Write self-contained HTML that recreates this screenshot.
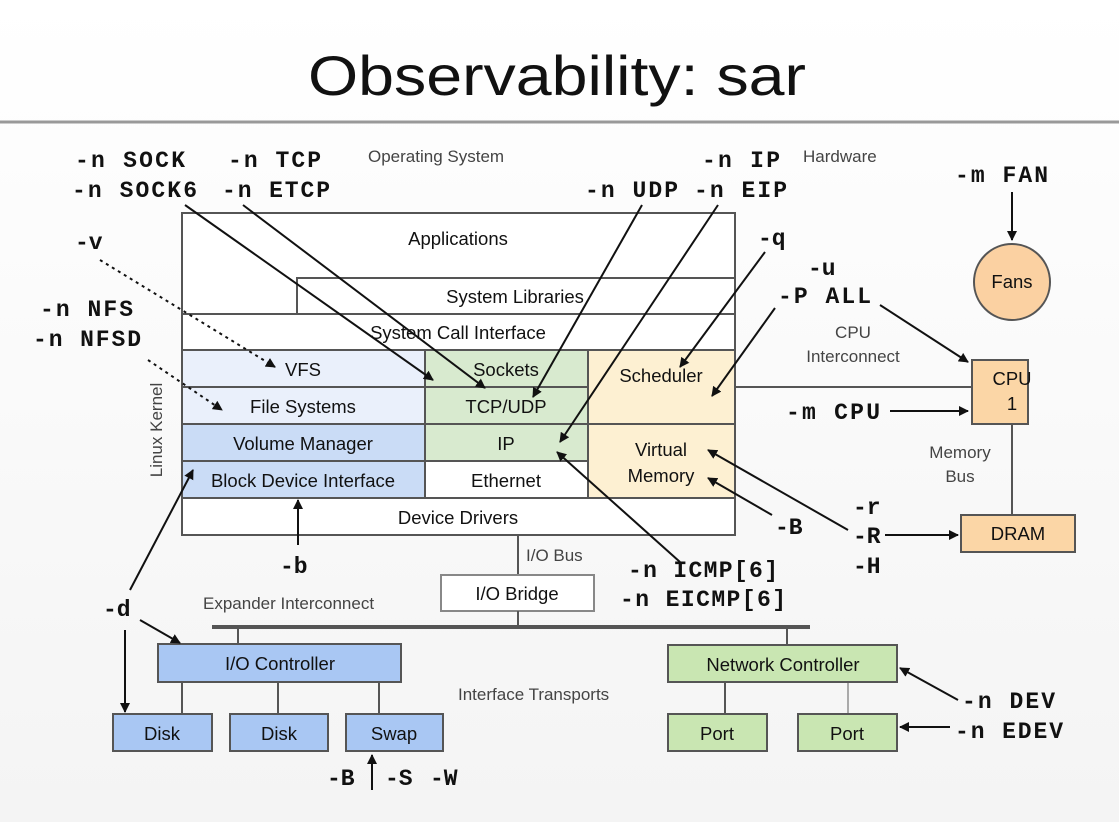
<!DOCTYPE html>
<html><head><meta charset="utf-8"><style>
html,body{margin:0;padding:0;background:#fff}
svg{display:block}
.m{font-family:"Liberation Mono",monospace;font-weight:bold;font-size:23px;fill:#111}
.s{font-family:"Liberation Sans",sans-serif;font-size:18.5px;fill:#111}
.g{font-family:"Liberation Sans",sans-serif;font-size:17px;fill:#444}
</style></head><body>
<svg width="1119" height="822" viewBox="0 0 1119 822" xmlns="http://www.w3.org/2000/svg">
<defs>
<marker id="a" markerWidth="10" markerHeight="10" refX="9" refY="5" orient="auto" markerUnits="userSpaceOnUse" viewBox="0 0 10 10"><path d="M0,0 L10,5 L0,10 z" fill="#111"/></marker>
<linearGradient id="bg" x1="0" y1="0" x2="0" y2="1"><stop offset="0" stop-color="#fff"/><stop offset="1" stop-color="#f4f4f4"/></linearGradient>
</defs>
<rect width="1119" height="822" fill="url(#bg)"/>
<text x="308" y="95" font-family="Liberation Sans,sans-serif" font-size="56" fill="#111" textLength="498" lengthAdjust="spacingAndGlyphs">Observability: sar</text>
<line x1="0" y1="122" x2="1119" y2="122" stroke="#999" stroke-width="3"/>

<g stroke="#555" stroke-width="2">
<rect x="182" y="213" width="553" height="322" fill="#fff"/>
<rect x="297" y="278" width="438" height="36" fill="#fff"/>
<line x1="182" y1="314" x2="735" y2="314"/>
<rect x="182" y="350" width="243" height="37" fill="#eaf0fb"/>
<rect x="182" y="387" width="243" height="37" fill="#eaf0fb"/>
<rect x="182" y="424" width="243" height="37" fill="#cadcf6"/>
<rect x="182" y="461" width="243" height="37" fill="#cadcf6"/>
<rect x="425" y="350" width="163" height="37" fill="#d8eacf"/>
<rect x="425" y="387" width="163" height="37" fill="#d8eacf"/>
<rect x="425" y="424" width="163" height="37" fill="#d8eacf"/>
<rect x="425" y="461" width="163" height="37" fill="#fff"/>
<rect x="588" y="350" width="147" height="74" fill="#fdf0d2"/>
<rect x="588" y="424" width="147" height="74" fill="#fdf0d2"/>
<line x1="735" y1="387" x2="972" y2="387"/>
<line x1="1012" y1="424" x2="1012" y2="515"/>
<line x1="518" y1="535" x2="518" y2="575"/>
<rect x="441" y="575" width="153" height="36" fill="#fff" stroke="#888"/>
<line x1="518" y1="611" x2="518" y2="627"/>
<line x1="238" y1="627" x2="238" y2="644"/>
<line x1="787" y1="627" x2="787" y2="645"/>
<line x1="182" y1="682" x2="182" y2="714"/>
<line x1="278" y1="682" x2="278" y2="714"/>
<line x1="379" y1="682" x2="379" y2="714"/>
<line x1="725" y1="682" x2="725" y2="714"/>
<line x1="848" y1="682" x2="848" y2="714" stroke="#aaa"/>
</g>
<line x1="212" y1="627" x2="810" y2="627" stroke="#555" stroke-width="4"/>
<g stroke="#555" stroke-width="2">
<rect x="972" y="360" width="56" height="64" fill="#fbd6a6"/>
<circle cx="1012" cy="282" r="38" fill="#fbd1a2"/>
<rect x="961" y="515" width="114" height="37" fill="#fbd6a6"/>
<rect x="158" y="644" width="243" height="38" fill="#a9c7f3"/>
<rect x="113" y="714" width="99" height="37" fill="#a9c7f3"/>
<rect x="230" y="714" width="98" height="37" fill="#a9c7f3"/>
<rect x="346" y="714" width="97" height="37" fill="#a9c7f3"/>
<rect x="668" y="645" width="229" height="37" fill="#c9e6b2"/>
<rect x="668" y="714" width="99" height="37" fill="#c9e6b2"/>
<rect x="798" y="714" width="99" height="37" fill="#c9e6b2"/>
</g>

<g class="s" text-anchor="middle">
<text x="458" y="245">Applications</text>
<text x="515" y="303">System Libraries</text>
<text x="458" y="339">System Call Interface</text>
<text x="303" y="376">VFS</text>
<text x="303" y="413">File Systems</text>
<text x="303" y="450">Volume Manager</text>
<text x="303" y="487">Block Device Interface</text>
<text x="506" y="376">Sockets</text>
<text x="506" y="413">TCP/UDP</text>
<text x="506" y="450">IP</text>
<text x="506" y="487">Ethernet</text>
<text x="661" y="382">Scheduler</text>
<text x="661" y="456">Virtual</text>
<text x="661" y="482">Memory</text>
<text x="458" y="524">Device Drivers</text>
<text x="517" y="600">I/O Bridge</text>
<text x="1012" y="288">Fans</text>
<text x="1012" y="385">CPU</text>
<text x="1012" y="410">1</text>
<text x="1018" y="540">DRAM</text>
<text x="280" y="670">I/O Controller</text>
<text x="162" y="740">Disk</text>
<text x="279" y="740">Disk</text>
<text x="394" y="740">Swap</text>
<text x="783" y="671">Network Controller</text>
<text x="717" y="740">Port</text>
<text x="847" y="740">Port</text>
</g>
<g class="g">
<text x="368" y="162">Operating System</text>
<text x="803" y="162">Hardware</text>
<text x="853" y="338" text-anchor="middle">CPU</text>
<text x="853" y="362" text-anchor="middle">Interconnect</text>
<text x="960" y="458" text-anchor="middle">Memory</text>
<text x="960" y="482" text-anchor="middle">Bus</text>
<text x="526" y="561">I/O Bus</text>
<text x="203" y="609">Expander Interconnect</text>
<text x="458" y="700">Interface Transports</text>
<text transform="translate(162,430) rotate(-90)" text-anchor="middle">Linux Kernel</text>
</g>

<g class="m" lengthAdjust="spacingAndGlyphs">
<text x="75" y="167" textLength="110">-n SOCK</text>
<text x="72" y="197" textLength="125">-n SOCK6</text>
<text x="228" y="167" textLength="93">-n TCP</text>
<text x="222" y="197" textLength="108">-n ETCP</text>
<text x="702" y="167" textLength="78">-n IP</text>
<text x="585" y="197" textLength="93">-n UDP</text>
<text x="694" y="197" textLength="93">-n EIP</text>
<text x="955" y="182" textLength="93">-m FAN</text>
<text x="75" y="249">-v</text>
<text x="758" y="245">-q</text>
<text x="808" y="275">-u</text>
<text x="778" y="303" textLength="93">-P ALL</text>
<text x="40" y="316" textLength="93">-n NFS</text>
<text x="33" y="346" textLength="108">-n NFSD</text>
<text x="786" y="419" textLength="94">-m CPU</text>
<text x="853" y="514">-r</text>
<text x="853" y="543">-R</text>
<text x="853" y="573">-H</text>
<text x="775" y="534">-B</text>
<text x="280" y="573">-b</text>
<text x="628" y="577" textLength="150">-n ICMP[6]</text>
<text x="620" y="606" textLength="166">-n EICMP[6]</text>
<text x="103" y="616">-d</text>
<text x="962" y="708" textLength="93">-n DEV</text>
<text x="955" y="738" textLength="108">-n EDEV</text>
<text x="327" y="785">-B</text>
<text x="385" y="785">-S</text>
<text x="430" y="785">-W</text>
</g>

<g stroke="#111" stroke-width="2" fill="none" marker-end="url(#a)">
<line x1="185" y1="205" x2="433" y2="380"/>
<line x1="243" y1="205" x2="485" y2="388"/>
<line x1="642" y1="205" x2="533" y2="397"/>
<line x1="718" y1="205" x2="560" y2="442"/>
<line x1="765" y1="252" x2="680" y2="367"/>
<line x1="775" y1="308" x2="712" y2="396"/>
<line x1="880" y1="305" x2="968" y2="362"/>
<line x1="890" y1="411" x2="968" y2="411"/>
<line x1="885" y1="535" x2="958" y2="535"/>
<line x1="848" y1="530" x2="708" y2="450"/>
<line x1="772" y1="515" x2="708" y2="478"/>
<line x1="680" y1="562" x2="557" y2="452"/>
<line x1="298" y1="545" x2="298" y2="500"/>
<line x1="130" y1="590" x2="193" y2="470"/>
<line x1="140" y1="620" x2="180" y2="643"/>
<line x1="125" y1="630" x2="125" y2="712"/>
<line x1="372" y1="790" x2="372" y2="755"/>
<line x1="1012" y1="192" x2="1012" y2="240"/>
<line x1="958" y1="700" x2="900" y2="668"/>
<line x1="950" y1="727" x2="900" y2="727"/>
<line x1="100" y1="260" x2="275" y2="367" stroke-dasharray="3,4"/>
<line x1="148" y1="360" x2="222" y2="410" stroke-dasharray="3,4"/>
</g>
</svg>
</body></html>
